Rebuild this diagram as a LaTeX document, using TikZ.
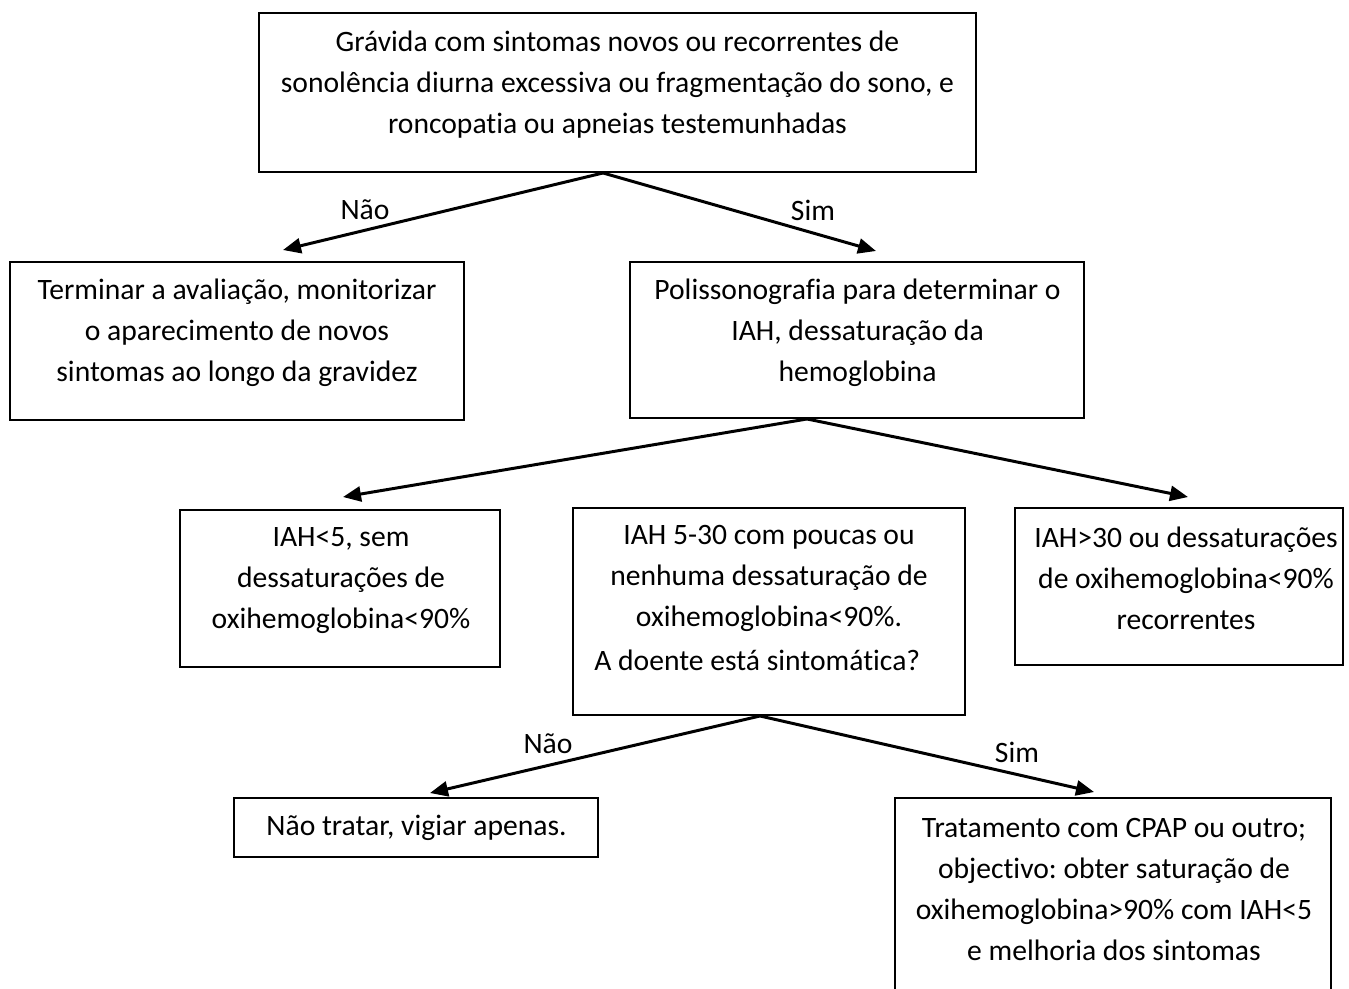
\documentclass[tikz,border=0pt]{standalone}
\usepackage{fontspec}
\setmainfont{Carlito}[Ligatures=NoCommon]
\usepackage{tikz}
\usetikzlibrary{arrows.meta, positioning, calc}
\newcommand{\flowfont}{\fontsize{16.85pt}{23.3pt}\selectfont}
\frenchspacing

\begin{document}
\begin{tikzpicture}[
    font=\flowfont,
    box/.style={draw=black,line width=1.1pt,inner sep=0pt},
    txt/.style={align=center,inner sep=0pt},
    lbl/.style={inner sep=0pt},
    arr/.style={-{Triangle[length=0.36cm,width=0.30cm]},draw=black,line width=1.7pt}
  ]
    \clip (0,0) rectangle (26.98,-19.76);
    % boxes
    \node[box,minimum width=14.34cm,minimum height=3.18cm] (top)    at (12.35,-1.85)  {};
    \node[box,minimum width=9.08cm, minimum height=3.16cm] (nao)    at (4.74,-6.82)   {};
    \node[box,minimum width=9.08cm, minimum height=3.12cm] (poly)   at (17.14,-6.80)  {};
    \node[box,minimum width=6.40cm, minimum height=3.14cm] (low)    at (6.80,-11.77)  {};
    \node[box,minimum width=7.84cm, minimum height=4.14cm] (mid)    at (15.38,-12.23) {};
    \node[box,minimum width=6.56cm, minimum height=3.14cm] (high)   at (23.58,-11.73) {};
    \node[box,minimum width=7.28cm, minimum height=1.18cm] (vigiar) at (8.32,-16.55)  {};
    \node[box,minimum width=8.72cm, minimum height=4.24cm] (cpap)   at (22.26,-18.08) {};
    % texts
    \node[txt] (topT) at (12.35,-1.69) {Grávida com sintomas novos ou recorrentes de\\sonolência diurna excessiva ou fragmentação do sono, e\\roncopatia ou apneias testemunhadas};
    \node[txt] (naoT) at (4.74,-6.66) {Terminar a avaliação, monitorizar\\o aparecimento de novos\\sintomas ao longo da gravidez};
    \node[txt] (polyT) at (17.15,-6.66) {Polissonografia para determinar o\\IAH, dessaturação da\\hemoglobina};
    \node[txt] (lowT) at (6.82,-11.61) {IAH<5, sem\\dessaturações de\\oxihemoglobina<90\%};
    \node[txt] (midT) at (15.38,-11.56) {IAH 5-30 com poucas ou\\nenhuma dessaturação de\\oxihemoglobina<90\%.};
    \node[txt,anchor=west] (midQ) at (11.88,-13.20) {A doente está sintomática?};
    \node[txt] (highT) at (23.72,-11.56) {IAH>30 ou dessaturações\\de oxihemoglobina<90\%\\recorrentes};
    \node[txt] (vigiarT) at (8.33,-16.56) {Não tratar, vigiar apenas.};
    \node[txt] (cpapT) at (22.28,-17.79) {Tratamento com CPAP ou outro;\\objectivo: obter saturação de\\oxihemoglobina>90\% com IAH<5\\e melhoria dos sintomas};
    % arrow ends
    \coordinate (naoIn)    at (5.66,-5.00);
    \coordinate (polyIn)   at (17.52,-5.02);
    \coordinate (lowIn)    at (6.86,-9.94);
    \coordinate (highIn)   at (23.76,-9.94);
    \coordinate (vigiarIn) at (8.60,-15.86);
    \coordinate (cpapIn)   at (21.88,-15.84);
    % arrows
    \draw[arr] ($(top.south)+(-0.29,0)$) -- (naoIn);
    \draw[arr] ($(top.south)+(-0.29,0)$) -- (polyIn);
    \draw[arr] ($(poly.south)+(-1.00,0)$) -- (lowIn);
    \draw[arr] ($(poly.south)+(-1.00,0)$) -- (highIn);
    \draw[arr] ($(mid.south)+(-0.18,0)$) -- (vigiarIn);
    \draw[arr] ($(mid.south)+(-0.18,0)$) -- (cpapIn);
    % labels
    \node[lbl] (naoL1) at (7.30,-4.20)  {Não};
    \node[lbl] (simL1) at (16.26,-4.20) {Sim};
    \node[lbl] (naoL2) at (10.96,-14.88) {Não};
    \node[lbl] (simL2) at (20.34,-15.04) {Sim};
  \end{tikzpicture}
\end{document}
